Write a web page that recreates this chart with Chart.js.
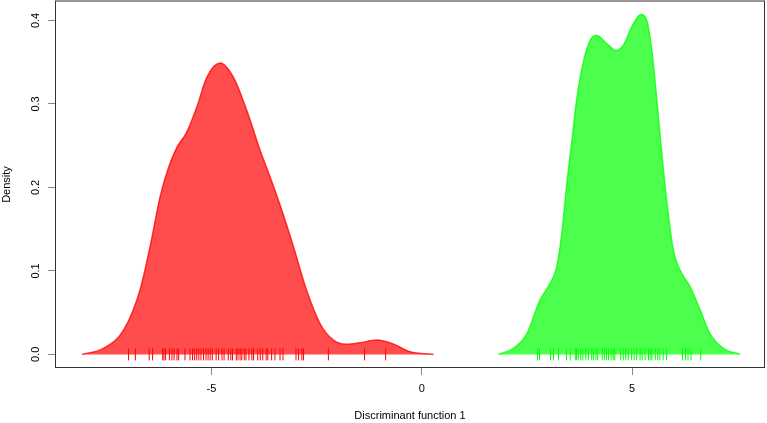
<!DOCTYPE html>
<html>
<head>
<meta charset="utf-8">
<script src="https://cdn.jsdelivr.net/npm/chart.js@4/dist/chart.umd.min.js"></script>
<style>
  body { margin: 0; background: #fff; }
  #wrap { width: 767px; height: 423px; }
</style>
</head>
<body>
<div id="wrap"><canvas id="dapc" width="767" height="423"></canvas></div>
<script>
// 軸の設定
const xTicks = [-5, 0, 5];
const yTicks = [0, 0.1, 0.2, 0.3, 0.4];
const xMin = -8.72, xMax = 8.16;
const yMin = -0.0163, yMax = 0.4233;

// 密度曲線 (グループ1: 赤)
const redDensX = [-8.08, -7.57, -7.09, -6.70, -6.46, -6.22, -6.02, -5.82, -5.59, -5.35, -5.11, -4.79, -4.48, -4.16, -3.84, -3.61, -3.33, -3.05, -2.74, -2.42, -2.10, -1.79, -1.47, -1.07, -0.68, -0.28, 0.28];
const redDensY = [0, 0.0072, 0.029, 0.077, 0.129, 0.189, 0.224, 0.248, 0.266, 0.296, 0.332, 0.349, 0.332, 0.292, 0.244, 0.213, 0.173, 0.129, 0.077, 0.037, 0.017, 0.012, 0.0139, 0.0171, 0.0124, 0.0031, 0];

// 密度曲線 (グループ2: 緑)
const greenDensX = [1.82, 2.18, 2.50, 2.81, 3.05, 3.21, 3.33, 3.45, 3.57, 3.68, 3.84, 4.00, 4.16, 4.40, 4.62, 4.79, 4.99, 5.21, 5.35, 5.47, 5.59, 5.70, 5.82, 5.98, 6.14, 6.38, 6.62, 6.85, 7.17, 7.57];
const greenDensY = [0, 0.0072, 0.025, 0.065, 0.085, 0.105, 0.145, 0.205, 0.256, 0.304, 0.350, 0.376, 0.382, 0.372, 0.364, 0.370, 0.392, 0.407, 0.400, 0.364, 0.304, 0.244, 0.185, 0.125, 0.101, 0.081, 0.053, 0.025, 0.0072, 0];

// 個体の判別得点 (ラグ)
const redRug = [-6.97, -6.81, -6.48, -6.40, -6.16, -6.13, -6.09, -6.00, -5.94, -5.89, -5.82, -5.78, -5.63, -5.51, -5.45, -5.40, -5.35, -5.30, -5.25, -5.19, -5.13, -5.08, -5.03, -4.98, -4.89, -4.83, -4.75, -4.70, -4.60, -4.54, -4.50, -4.41, -4.37, -4.32, -4.28, -4.22, -4.18, -4.11, -4.04, -4.00, -3.90, -3.84, -3.78, -3.70, -3.66, -3.57, -3.49, -3.37, -3.30, -2.99, -2.93, -2.85, -2.81, -2.22, -1.36, -0.86];
const greenRug = [2.75, 2.80, 3.06, 3.13, 3.25, 3.44, 3.53, 3.65, 3.68, 3.72, 3.78, 3.83, 3.90, 3.96, 4.04, 4.08, 4.14, 4.18, 4.29, 4.34, 4.39, 4.44, 4.50, 4.55, 4.59, 4.73, 4.79, 4.85, 4.91, 4.99, 5.05, 5.11, 5.19, 5.24, 5.31, 5.39, 5.43, 5.47, 5.55, 5.61, 5.66, 5.74, 5.82, 6.20, 6.27, 6.33, 6.40, 6.63];

const FONT = { family: '"Liberation Sans", Arial, Helvetica, sans-serif', size: 11 };

function toPoints(xs, ys) {
    return xs.map((x, i) => ({ x: x, y: ys[i] }));
}

function densityDataset(xs, ys, rgb) {
    return {
        type: 'line',
        data: toPoints(xs, ys),
        fill: 'origin',
        backgroundColor: `rgba(${rgb},0.7)`,
        borderColor: `rgba(${rgb},0.75)`,
        borderWidth: 1.5,
        pointRadius: 0,
        cubicInterpolationMode: 'monotone',
        order: 2
    };
}

function rugDataset(values, color) {
    return {
        type: 'scatter',
        data: values.map(v => ({ x: v, y: 0 })),
        pointStyle: 'line',
        rotation: 90,
        pointRadius: 6,
        borderColor: color,
        borderWidth: 1,
        order: 1
    };
}

// 枠と回転したy目盛りラベル
const framePlugin = {
    id: 'rframe',
    afterDraw(chart) {
        const ctx = chart.ctx;
        const a = chart.chartArea;
        const ys = chart.scales.y;
        ctx.save();
        ctx.strokeStyle = '#333';
        ctx.lineWidth = 1;
        ctx.strokeRect(Math.round(a.left) + 0.5, 1, Math.round(a.right - a.left) - 1, Math.round(a.bottom) - 1.5);
        ctx.fillStyle = '#000';
        ctx.font = `${FONT.size}px ${FONT.family}`;
        ctx.textAlign = 'center';
        ctx.textBaseline = 'middle';
        yTicks.forEach(v => {
            const py = ys.getPixelForValue(v);
            ctx.save();
            ctx.translate(36, py);
            ctx.rotate(-Math.PI / 2);
            ctx.fillText(v.toFixed(1), 0, 0);
            ctx.restore();
        });
        ctx.restore();
    }
};

new Chart(document.getElementById('dapc'), {
    data: {
        datasets: [
            densityDataset(redDensX, redDensY, '255,0,0'),
            densityDataset(greenDensX, greenDensY, '0,255,0'),
            rugDataset(redRug, '#ff0000'),
            rugDataset(greenRug, '#00ff00')
        ]
    },
    options: {
        responsive: false,
        devicePixelRatio: 1,
        animation: false,
        layout: { autoPadding: false, padding: { top: 1, right: 2, left: 0, bottom: 0 } },
        plugins: {
            legend: { display: false },
            tooltip: { enabled: false }
        },
        scales: {
            x: {
                type: 'linear',
                min: xMin,
                max: xMax,
                afterBuildTicks: s => { s.ticks = xTicks.map(v => ({ value: v })); },
                afterFit: s => { s.height = 55; },
                ticks: {
                    color: '#000',
                    font: FONT,
                    padding: 7,
                    maxRotation: 0,
                    callback: v => String(v)
                },
                grid: {
                    drawOnChartArea: false,
                    drawTicks: true,
                    tickLength: 7,
                    tickColor: '#888',
                    tickWidth: 1
                },
                border: { display: false },
                title: {
                    display: true,
                    text: 'Discriminant function 1',
                    color: '#000',
                    font: FONT,
                    padding: { top: 0, bottom: 0 }
                }
            },
            y: {
                type: 'linear',
                min: yMin,
                max: yMax,
                afterBuildTicks: s => { s.ticks = yTicks.map(v => ({ value: v })); },
                afterFit: s => { s.width = 55; },
                ticks: { display: false },
                grid: {
                    drawOnChartArea: false,
                    drawTicks: true,
                    tickLength: 7,
                    tickColor: '#888',
                    tickWidth: 1
                },
                border: { display: false },
                title: {
                    display: true,
                    text: 'Density',
                    color: '#000',
                    font: FONT,
                    padding: { top: 0, bottom: 0 }
                }
            }
        }
    },
    plugins: [framePlugin]
});
</script>
</body>
</html>
